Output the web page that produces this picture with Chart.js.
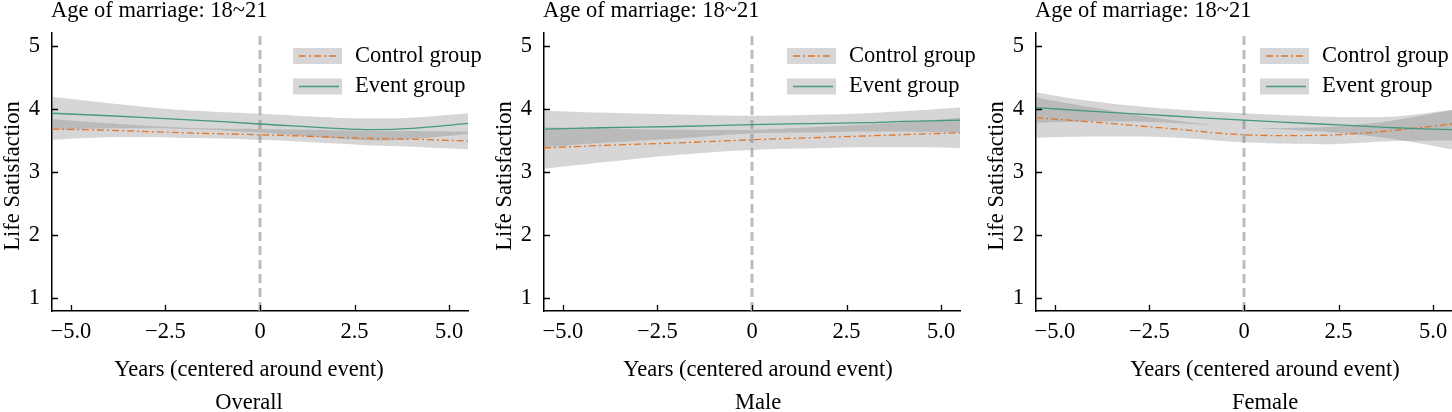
<!DOCTYPE html>
<html>
<head>
<meta charset="utf-8">
<script src="https://cdn.jsdelivr.net/npm/chart.js@4.4.1/dist/chart.umd.min.js"></script>
<style>
  body { margin: 0; background: #fff; overflow: hidden; }
  .panel { position: absolute; top: 0; width: 492px; height: 412px; }
</style>
</head>
<body>
<div class="panel" style="left:0px"><canvas id="overall"></canvas></div>
<div class="panel" style="left:492px"><canvas id="male"></canvas></div>
<div class="panel" style="left:984px"><canvas id="female"></canvas></div>
<script>
// years relative to marriage, shared by all panels
const years = [-5.5, -4, -2, 0, 2, 3, 4, 5.5];

const overallEvent   = [3.93, 3.89, 3.83, 3.76, 3.69, 3.67, 3.69, 3.77];
const overallEventHi = [4.19, 4.09, 3.98, 3.92, 3.86, 3.85, 3.86, 3.93];
const overallEventLo = [3.67, 3.69, 3.68, 3.62, 3.53, 3.50, 3.52, 3.60];
const overallCtrl    = [3.68, 3.66, 3.62, 3.59, 3.55, 3.53, 3.52, 3.49];
const overallCtrlHi  = [3.84, 3.77, 3.70, 3.68, 3.66, 3.65, 3.65, 3.64];
const overallCtrlLo  = [3.51, 3.55, 3.54, 3.51, 3.45, 3.42, 3.40, 3.36];

const maleEvent   = [3.68, 3.70, 3.72, 3.75, 3.77, 3.78, 3.80, 3.82];
const maleEventHi = [3.97, 3.94, 3.91, 3.89, 3.91, 3.93, 3.96, 4.02];
const maleEventLo = [3.39, 3.46, 3.53, 3.61, 3.63, 3.64, 3.64, 3.62];
const maleCtrl    = [3.38, 3.42, 3.46, 3.51, 3.55, 3.57, 3.59, 3.62];
const maleCtrlHi  = [3.71, 3.69, 3.67, 3.67, 3.72, 3.75, 3.79, 3.86];
const maleCtrlLo  = [3.05, 3.15, 3.27, 3.35, 3.38, 3.39, 3.39, 3.38];

const femaleEvent   = [4.02, 3.96, 3.89, 3.82, 3.76, 3.73, 3.70, 3.67];
const femaleEventHi = [4.26, 4.12, 4.00, 3.93, 3.88, 3.87, 3.88, 3.98];
const femaleEventLo = [3.78, 3.80, 3.78, 3.71, 3.64, 3.59, 3.52, 3.36];
const femaleCtrl    = [3.86, 3.79, 3.69, 3.59, 3.58, 3.61, 3.66, 3.76];
const femaleCtrlHi  = [4.18, 4.02, 3.83, 3.71, 3.71, 3.75, 3.82, 3.98];
const femaleCtrlLo  = [3.54, 3.56, 3.55, 3.47, 3.44, 3.46, 3.49, 3.50];

const yTicks = [1, 2, 3, 4, 5];
const xTickValues = [-5, -2.5, 0, 2.5, 5];
const xTickLabels = ['\u22125.0', '\u22122.5', '0', '2.5', '5.0'];
const eventYear = 0;

const legendLabels = ['Control group', 'Event group'];
const panelTitle = 'Age of marriage: 18~21';
const xTitle = 'Years (centered around event)';
const yTitle = 'Life Satisfaction';

const FONT = '"Liberation Serif", "Times New Roman", serif';
const FONT_SIZE = 22.5;
const GREEN = '#449a7a';
const ORANGE = '#e0772a';
const BAND = 'rgba(128,128,128,0.32)';
const CTRL_DASH = [7, 3, 2, 3];

const pts = arr => arr.map((v, i) => ({ x: years[i], y: v }));

// titles, inward tick marks and legend
const decorations = {
    id: 'decorations',
    afterDraw(chart, args, opts) {
        const { ctx, chartArea } = chart;
        const xs = chart.scales.x, ys = chart.scales.y;
        ctx.save();
        ctx.strokeStyle = '#000';
        ctx.lineWidth = 1.3;
        ctx.beginPath();
        yTicks.forEach(v => {
            const py = Math.round(ys.getPixelForValue(v)) + 0.5;
            ctx.moveTo(chartArea.left, py);
            ctx.lineTo(chartArea.left + 6, py);
        });
        xTickValues.forEach(v => {
            const px = Math.round(xs.getPixelForValue(v)) + 0.5;
            ctx.moveTo(px, chartArea.bottom);
            ctx.lineTo(px, chartArea.bottom - 6);
        });
        ctx.stroke();

        ctx.fillStyle = '#000';
        ctx.font = FONT_SIZE + 'px ' + FONT;
        ctx.textBaseline = 'alphabetic';
        ctx.textAlign = 'left';
        ctx.fillText(panelTitle, chartArea.left - 1, 17);
        ctx.textAlign = 'center';
        ctx.fillText(xTitle, chartArea.left + opts.labelCenter, 376);
        ctx.fillText(opts.label, chartArea.left + opts.labelCenter, 409);

        ctx.save();
        ctx.translate(13, (chartArea.top + chartArea.bottom) / 2 + 4);
        ctx.rotate(-Math.PI / 2);
        ctx.textBaseline = 'middle';
        ctx.fillText(yTitle, 0, 0);
        ctx.restore();

        // legend
        const lx = chartArea.left + opts.legendLeft;
        const rows = [
            { y: 56, color: ORANGE, dash: CTRL_DASH },
            { y: 86.5, color: GREEN, dash: [] }
        ];
        rows.forEach((r, i) => {
            ctx.fillStyle = '#d6d6d6';
            ctx.fillRect(lx, r.y - 8, 49, 16);
            ctx.strokeStyle = r.color;
            ctx.lineWidth = 1.3;
            ctx.setLineDash(r.dash);
            ctx.beginPath();
            ctx.moveTo(lx + 6, r.y);
            ctx.lineTo(lx + 46, r.y);
            ctx.stroke();
            ctx.setLineDash([]);
            ctx.fillStyle = '#000';
            ctx.textAlign = 'left';
            ctx.textBaseline = 'middle';
            ctx.fillText(legendLabels[i], lx + 62, r.y);
        });
        ctx.restore();
    }
};

const makeChart = (id, label, ev, evHi, evLo, ct, ctHi, ctLo, legendLeft, labelCenter) => {
    const ctx = document.getElementById(id).getContext('2d');
    const band = { borderWidth: 0, pointRadius: 0, tension: 0.4 };
    return new Chart(ctx, {
        type: 'line',
        data: {
            datasets: [
                { data: pts(ev), borderColor: GREEN, borderWidth: 1.3, pointRadius: 0, fill: false, tension: 0.4 },
                { data: pts(ct), borderColor: ORANGE, borderWidth: 1.3, borderDash: CTRL_DASH, pointRadius: 0, fill: false, tension: 0.4 },
                { ...band, data: pts(evHi), fill: false },
                { ...band, data: pts(evLo), fill: '-1', backgroundColor: BAND },
                { ...band, data: pts(ctHi), fill: false },
                { ...band, data: pts(ctLo), fill: '-1', backgroundColor: BAND },
                { data: [{ x: eventYear, y: 0.8 }, { x: eventYear, y: 5.2 }], borderColor: '#bdbdbd', borderWidth: 3, borderDash: [9, 5], pointRadius: 0, fill: false }
            ]
        },
        options: {
            responsive: true,
            maintainAspectRatio: false,
            animation: false,
            layout: { padding: { top: 33, right: 24, left: 0, bottom: 0 } },
            plugins: {
                legend: { display: false },
                tooltip: { enabled: false },
                decorations: { label: label, legendLeft: legendLeft, labelCenter: labelCenter }
            },
            scales: {
                x: {
                    type: 'linear',
                    min: -5.5,
                    max: 5.5,
                    afterBuildTicks: axis => { axis.ticks = xTickValues.map(v => ({ value: v })); },
                    afterFit: axis => { axis.height = 101; },
                    grid: { display: false, drawTicks: false },
                    border: { display: true, color: '#000', width: 1.5 },
                    ticks: {
                        color: '#000',
                        padding: 8,
                        maxRotation: 0,
                        font: { family: FONT, size: FONT_SIZE },
                        callback: v => xTickLabels[xTickValues.indexOf(v)]
                    }
                },
                y: {
                    min: 0.8,
                    max: 5.2,
                    afterBuildTicks: axis => { axis.ticks = yTicks.map(v => ({ value: v })); },
                    afterFit: axis => { axis.width = 52; },
                    grid: { display: false, drawTicks: false },
                    border: { display: true, color: '#000', width: 1.5 },
                    ticks: {
                        color: '#000',
                        padding: 12,
                        font: { family: FONT, size: FONT_SIZE }
                    }
                }
            }
        },
        plugins: [decorations]
    });
};

makeChart('overall', 'Overall', overallEvent, overallEventHi, overallEventLo, overallCtrl, overallCtrlHi, overallCtrlLo, 241, 197);
makeChart('male', 'Male', maleEvent, maleEventHi, maleEventLo, maleCtrl, maleCtrlHi, maleCtrlLo, 243, 214);
makeChart('female', 'Female', femaleEvent, femaleEventHi, femaleEventLo, femaleCtrl, femaleCtrlHi, femaleCtrlLo, 224, 229);
</script>
</body>
</html>
